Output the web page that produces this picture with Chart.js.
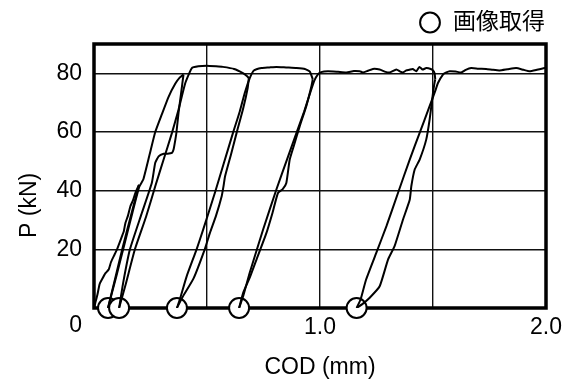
<!DOCTYPE html>
<html>
<head>
<meta charset="utf-8">
<script src="https://cdn.jsdelivr.net/npm/chart.js@4"></script>
<style>
  html, body { margin: 0; padding: 0; background: #fff; }
  #wrap { width: 572px; height: 385px; }
</style>
</head>
<body>
<div id="wrap"><canvas id="c"></canvas></div>
<script>
// Load P (kN) versus crack opening displacement COD (mm), one array per branch.
const load1 = [[0,0],[0.006,1.8],[0.015,4.5],[0.025,8.2],[0.035,9.7],[0.05,11.8],[0.065,13.1],[0.075,15.6],[0.087,17.6],[0.102,20],[0.115,22.6],[0.124,24.5],[0.132,26.2],[0.139,29],[0.15,31.4],[0.161,34.7],[0.172,36.6],[0.183,39.2],[0.199,42]];
const unload1 = [[0.199,42],[0.165,32],[0.128,21],[0.095,10.5],[0.062,0]];
const reload2 = [[0.062,0],[0.1,11.2],[0.135,21.8],[0.17,32.5],[0.2,41.3],[0.218,43.8],[0.245,52],[0.271,60],[0.3,66],[0.33,72],[0.36,76.5],[0.38,78.6],[0.396,79.6]];
const unload2 = [[0.396,79.6],[0.385,73],[0.374,66.5],[0.365,60],[0.36,57.4],[0.352,54],[0.345,52.9],[0.325,52.6],[0.308,52.6],[0.286,51.7],[0.271,49.5],[0.256,42.7],[0.21,32],[0.159,20],[0.13,9],[0.111,0]];
const reload3 = [[0.111,0],[0.14,8],[0.181,20],[0.23,31],[0.271,41.5],[0.308,50.6],[0.345,59.7],[0.374,67.6],[0.404,76.7],[0.433,81.8],[0.462,82.4],[0.498,82.6],[0.54,82.4],[0.57,82.2],[0.62,81.5],[0.659,80.1],[0.675,79.2],[0.685,78.4]];
const unload3 = [[0.685,78.4],[0.68,75],[0.66,68],[0.631,59.7],[0.605,52],[0.58,44.9],[0.573,41.5],[0.565,38.1],[0.54,31.5],[0.513,25.6],[0.49,20],[0.44,10],[0.39,3.5],[0.367,0]];
const reload4 = [[0.367,0],[0.38,3],[0.41,10.8],[0.454,20],[0.483,26.7],[0.535,39.3],[0.575,49.5],[0.615,59.7],[0.645,67],[0.667,73.3],[0.69,78.5],[0.705,80.8],[0.719,81.4],[0.741,81.8],[0.775,82],[0.807,82.2],[0.85,82],[0.896,81.8],[0.933,81.5],[0.955,80.6],[0.968,78]];
const unload4 = [[0.968,78],[0.962,75.6],[0.94,69],[0.91,61.9],[0.885,55.5],[0.866,50.6],[0.851,42.6],[0.835,40.5],[0.814,39.2],[0.79,32.5],[0.763,25.6],[0.719,16.5],[0.69,10.5],[0.66,5.2],[0.642,0]];
const reload5 = [[0.642,0],[0.66,4],[0.689,12],[0.748,26.7],[0.807,40.4],[0.859,51.7],[0.896,59.7],[0.93,67],[0.955,73],[0.975,77.5],[0.99,79.6],[1.005,80.4],[1.035,80.7],[1.08,80.5],[1.117,80.3],[1.15,80.8],[1.176,80.7],[1.19,80.3],[1.21,80.8],[1.234,81.5],[1.264,81.3],[1.29,80.5],[1.308,80.3],[1.338,81.3],[1.355,80.6],[1.367,80.3],[1.382,81],[1.395,81.2],[1.41,81.5],[1.426,80.7],[1.44,82.2],[1.454,81.3],[1.47,81.8],[1.49,81.5],[1.5,81],[1.507,80],[1.51,78]];
const unload5 = [[1.51,78],[1.505,76],[1.5,73.3],[1.485,64.2],[1.47,57.4],[1.441,50.6],[1.419,47.2],[1.404,41.5],[1.397,36.9],[1.367,30.1],[1.33,21.1],[1.301,16.5],[1.264,7.4],[1.22,3.5],[1.19,1.5],[1.162,0]];
const reload6 = [[1.162,0],[1.18,3],[1.204,9.7],[1.249,18.8],[1.294,27.9],[1.345,39.2],[1.397,50.6],[1.441,59.7],[1.485,68.8],[1.51,74],[1.522,76.7],[1.544,79.6],[1.559,80.3],[1.574,80.7],[1.6,80.6],[1.625,80.3],[1.645,81.2],[1.669,81.8],[1.7,81.6],[1.735,81.5],[1.765,81.2],[1.794,81],[1.83,81.4],[1.868,81.8],[1.9,81.2],[1.927,80.7],[1.96,81.2],[1.993,81.8],[2.0,81.9]];

// COD at which each image was captured (load released to zero)
const captureCOD = [0.062, 0.111, 0.367, 0.642, 1.162];
const captureLabel = '画像取得';

const xGridValues = [0, 0.5, 1.0, 1.5, 2.0];
const xTickLabels = { 1: '1.0', 2: '2.0' };
const yTickValues = [20, 40, 60, 80];

const FONT = "'Liberation Sans', Arial, 'Noto Sans CJK JP', sans-serif";
const FS = 23;

const branches = [load1, unload1, reload2, unload2, reload3, unload3, reload4, unload4, reload5, unload5, reload6];
const curveSets = branches.map(b => ({
  data: b.map(p => ({ x: p[0], y: p[1] })),
  showLine: true,
  borderColor: '#000',
  borderWidth: 2,
  pointRadius: 0,
  tension: 0.15,
  fill: false
}));

const markerSet = {
  label: captureLabel,
  data: captureCOD.map(v => ({ x: v, y: 0 })),
  showLine: false,
  pointRadius: 10,
  pointHoverRadius: 10,
  pointBackgroundColor: '#fff',
  pointBorderColor: '#000',
  pointBorderWidth: 2,
  backgroundColor: '#fff',
  borderColor: '#000',
  borderWidth: 2,
  clip: false
};

const framePlugin = {
  id: 'frame',
  beforeDatasetsDraw(chart) {
    const { ctx, chartArea: a } = chart;
    ctx.save();
    ctx.strokeStyle = '#000';
    ctx.lineWidth = 3.5;
    ctx.strokeRect(a.left, a.top, a.right - a.left, a.bottom - a.top);
    ctx.restore();
  },
  afterDraw(chart) {
    const { ctx, chartArea: a, scales } = chart;
    ctx.save();
    ctx.fillStyle = '#000';
    ctx.font = FS + 'px ' + FONT;
    // shared origin label
    ctx.textAlign = 'right';
    ctx.textBaseline = 'middle';
    ctx.fillText('0', scales.y.right - 12, a.bottom + 18);
    // vertical axis title
    ctx.translate(30, scales.y.getPixelForValue(35));
    ctx.rotate(-Math.PI / 2);
    ctx.textAlign = 'center';
    ctx.fillText('P (kN)', 0, 0);
    ctx.restore();
  }
};

new Chart(document.getElementById('c'), {
  type: 'scatter',
  data: { datasets: [...curveSets, markerSet] },
  options: {
    responsive: true,
    maintainAspectRatio: false,
    animation: false,
    events: [],
    layout: { padding: { top: 10, right: 26, bottom: 0, left: 0 } },
    plugins: {
      tooltip: { enabled: false },
      legend: {
        display: true,
        position: 'top',
        align: 'end',
        labels: {
          filter: item => item.text === captureLabel,
          usePointStyle: true,
          pointStyle: 'circle',
          boxHeight: 14,
          padding: 1,
          color: '#000',
          font: { family: FONT, size: FS }
        }
      }
    },
    scales: {
      x: {
        type: 'linear',
        min: 0,
        max: 2,
        afterBuildTicks: s => { s.ticks = xGridValues.map(v => ({ value: v })); },
        afterFit: s => { s.height = 77; },
        grid: { color: '#111', lineWidth: 1.4, drawTicks: false },
        border: { display: false },
        ticks: {
          color: '#000',
          font: { family: FONT, size: FS },
          padding: 6,
          maxRotation: 0,
          autoSkip: false,
          callback: v => xTickLabels[v] || ''
        },
        title: {
          display: true,
          text: 'COD (mm)',
          color: '#000',
          font: { family: FONT, size: FS },
          padding: { top: 8, bottom: 4 }
        }
      },
      y: {
        type: 'linear',
        min: 0,
        max: 90,
        afterBuildTicks: s => { s.ticks = yTickValues.map(v => ({ value: v })); },
        afterFit: s => { s.width = 94; s.paddingTop = 44; },
        grid: { color: '#111', lineWidth: 1.4, drawTicks: false },
        border: { display: false },
        ticks: {
          color: '#000',
          font: { family: FONT, size: FS },
          padding: 12
        }
      }
    }
  },
  plugins: [framePlugin]
});
</script>
</body>
</html>
